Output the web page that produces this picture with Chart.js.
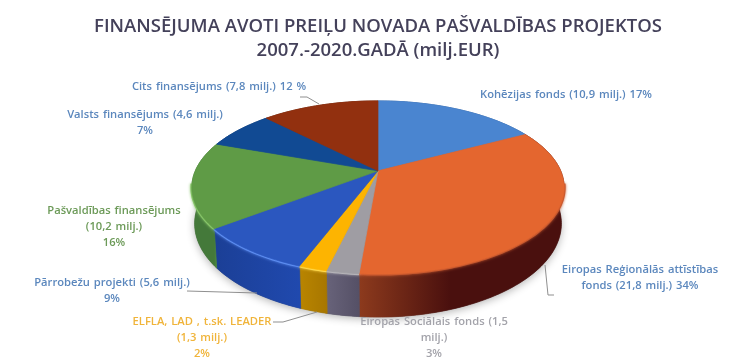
<!DOCTYPE html>
<html>
<head>
<meta charset="utf-8">
<script src="https://cdn.jsdelivr.net/npm/chart.js@4/dist/chart.umd.js"></script>
<style>
body { margin: 0; background: #fff; }
</style>
</head>
<body>
<canvas id="grafiks" width="750" height="363"></canvas>
<script>
var categories = ['Kohēzijas fonds', 'Eiropas Reģionālās attīstības fonds', 'Eiropas Sociālais fonds', 'ELFLA, LAD , t.sk. LEADER', 'Pārrobežu projekti', 'Pašvaldības finansējums', 'Valsts finansējums', 'Cits finansējums'];
var values = [10.9, 21.8, 1.5, 1.3, 5.6, 10.2, 4.6, 7.8];
var titleLines = ['FINANSĒJUMA AVOTI PREIĻU NOVADA PAŠVALDĪBAS PROJEKTOS', '2007.-2020.GADĀ (milj.EUR)'];
var labelLines = [
    ['Kohēzijas fonds (10,9 milj.) 17%'],
    ['Eiropas Reģionālās attīstības', 'fonds (21,8 milj.) 34%'],
    ['Eiropas Sociālais fonds (1,5', 'milj.)', '3%'],
    ['ELFLA, LAD , t.sk. LEADER', '(1,3 milj.)', '2%'],
    ['Pārrobežu projekti (5,6 milj.)', '9%'],
    ['Pašvaldības finansējums', '(10,2 milj.)', '16%'],
    ['Valsts finansējums (4,6 milj.)', '7%'],
    ['Cits finansējums (7,8 milj.) 12 %']
];

var sliceColors = ['#4a85d0', '#e4662f', '#9f9da3', '#fdb401', '#2b57bf', '#5f9b46', '#114a93', '#92300f'];
var wallColors = [['#2b5a95', '#2b5a95'], ['#8c3a1d', '#4a100e'], ['#68637a', '#555066'], ['#b98500', '#a87700'], ['#1b3f96', '#2049ae'], ['#44793a', '#4f8d3f'], ['#0c3468', '#0c3468'], ['#5e1e0a', '#5e1e0a']];
var rimColors = ['#4a85d0', '#c9592e', '#b5b3b8', '#ffd84a', '#5c8cf0', '#86c468', '#114a93', '#92300f'];
var labelColors = ['#5b87bd', '#5b87bd', '#a3a3aa', '#f0b43a', '#5b87bd', '#6c9a58', '#5b87bd', '#5b87bd'];

// vietas uz attela: teksta centrs x, pirmas rindas y
var labelSpots = [[566, 95], [640, 270], [434, 322], [202, 322], [112, 283], [114, 211], [145, 115], [219, 87]];
var leaderLines = [
    [[300, 97], [307, 97], [319, 104]],
    [[545, 265], [548, 295], [554, 295]],
    null,
    [[273, 322], [283, 322], [317, 312]],
    [[187, 291], [257, 293]],
    null, null, null
];

// perspektivas parametri, pikseli pie R=150
var persp = { k: -0.192, sx: 184, sy: 84, apex: -43.5, depth: 35 };

function project(el, angle, down) {
    var s = el.outerRadius / 150;
    var u = Math.cos(angle), v = Math.sin(angle);
    var w = 1 + persp.k * v;
    var x = el.x + persp.sx * s * u / w * (down ? 0.985 : 1);
    var y = el.y + (persp.apex + persp.sy * v / w + (down ? persp.depth / w : 0)) * s;
    return [x, y];
}

function edgePath(ctx, el, from, to, down) {
    var steps = Math.max(2, Math.ceil(Math.abs(to - from) / 0.02));
    for (var i = 0; i <= steps; i++) {
        var p = project(el, from + (to - from) * i / steps, down);
        ctx.lineTo(p[0], p[1]);
    }
}

// augsejo virsmu zime ar perspektivu
Chart.ArcElement.prototype.draw = function (ctx) {
    var el = this.getProps(['x', 'y', 'startAngle', 'endAngle', 'outerRadius']);
    var color = this.options.backgroundColor;
    ctx.save();
    ctx.beginPath();
    ctx.moveTo(el.x, el.y + persp.apex * el.outerRadius / 150);
    edgePath(ctx, el, el.startAngle, el.endAngle, false);
    ctx.closePath();
    ctx.fillStyle = color;
    ctx.strokeStyle = color;
    ctx.lineWidth = 0.7;
    ctx.fill();
    ctx.stroke();
    ctx.restore();
};

var wallsPlugin = {
    id: 'walls',
    beforeDatasetsDraw: function (chart) {
        var ctx = chart.ctx;
        var arcs = chart.getDatasetMeta(0).data;
        ctx.save();

        // mikla ena zem visa rausa
        var whole = arcs[0];
        ctx.shadowColor = 'rgba(0,0,0,0.3)';
        ctx.shadowBlur = 8;
        ctx.shadowOffsetY = 2;
        ctx.fillStyle = '#555';
        ctx.beginPath();
        edgePath(ctx, whole, 0, Math.PI * 2, true);
        ctx.closePath();
        ctx.fill();
        ctx.shadowColor = 'transparent';
        ctx.shadowBlur = 0;
        ctx.shadowOffsetY = 0;

        arcs.forEach(function (el, i) {
            var a = project(el, el.startAngle, false);
            var b = project(el, el.endAngle, false);
            var g = ctx.createLinearGradient(Math.min(a[0], b[0]), 0, Math.max(a[0], b[0]), 0);
            if (i === 1) {
                g = ctx.createLinearGradient(360, 0, 450, 0);
            }
            g.addColorStop(0, wallColors[i][0]);
            g.addColorStop(1, wallColors[i][1]);
            ctx.fillStyle = g;
            ctx.strokeStyle = g;
            ctx.lineWidth = 0.7;
            ctx.beginPath();
            edgePath(ctx, el, el.startAngle, el.endAngle, false);
            edgePath(ctx, el, el.endAngle, el.startAngle, true);
            ctx.closePath();
            ctx.fill();
            ctx.stroke();
        });

        // gaisa mala tikai tuvajai pusei
        arcs.forEach(function (el, i) {
            var from = Math.max(el.startAngle, 0.15);
            var to = Math.min(el.endAngle, Math.PI - 0.15);
            if (to <= from) return;
            ctx.strokeStyle = rimColors[i];
            ctx.lineWidth = 3;
            ctx.shadowColor = rimColors[i];
            ctx.shadowBlur = 3;
            ctx.beginPath();
            edgePath(ctx, el, from, to, false);
            ctx.stroke();
        });
        ctx.restore();
    },
    afterDatasetsDraw: function (chart) {
        var ctx = chart.ctx;
        ctx.save();
        ctx.strokeStyle = '#8f8f8f';
        ctx.lineWidth = 1;
        leaderLines.forEach(function (pts) {
            if (!pts) return;
            ctx.beginPath();
            pts.forEach(function (p, j) {
                if (j === 0) ctx.moveTo(p[0], p[1]); else ctx.lineTo(p[0], p[1]);
            });
            ctx.stroke();
        });
        ctx.font = '600 11.2px "Open Sans"';
        ctx.textAlign = 'center';
        ctx.textBaseline = 'middle';
        ctx.wordSpacing = '1px';
        labelLines.forEach(function (lines, i) {
            ctx.fillStyle = labelColors[i];
            lines.forEach(function (line, j) {
                ctx.fillText(line, labelSpots[i][0], labelSpots[i][1] + j * 16);
            });
        });
        ctx.restore();
    }
};

var grafiks = new Chart(document.getElementById('grafiks').getContext('2d'), {
    type: 'pie',
    plugins: [wallsPlugin],
    data: {
        labels: categories,
        datasets: [{
            data: values,
            backgroundColor: sliceColors,
            borderWidth: 0
        }]
    },
    options: {
        responsive: false,
        animation: false,
        layout: { padding: { left: 6 } },
        plugins: {
            legend: { display: false },
            tooltip: { enabled: false },
            title: {
                display: true,
                fullSize: false,
                text: titleLines,
                color: '#44415a',
                font: { family: 'Open Sans', size: 18.5, weight: '600', lineHeight: 1.3 },
                padding: { top: 15, bottom: 2 }
            }
        }
    }
});
</script>
</body>
</html>
